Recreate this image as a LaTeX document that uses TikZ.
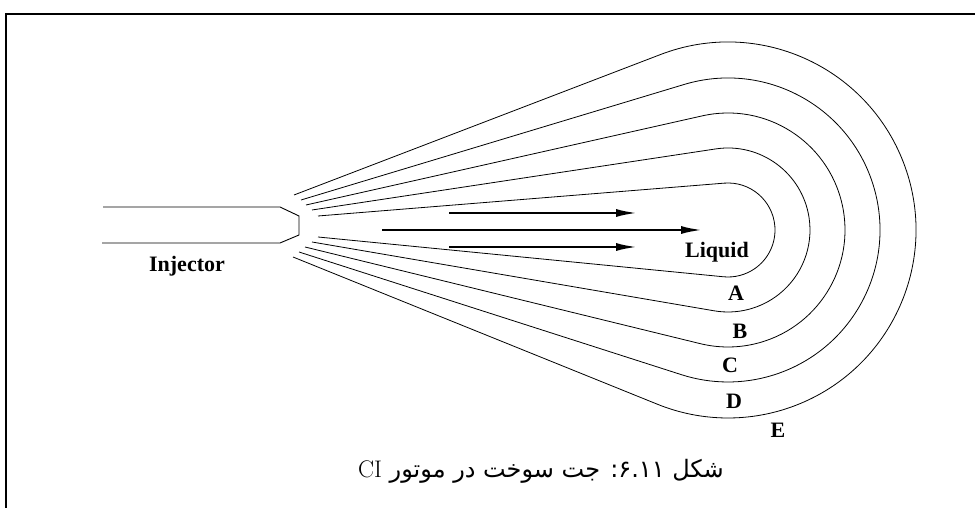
\documentclass[tikz,border=0pt]{standalone}
\usepackage{fontspec}
\usetikzlibrary{arrows.meta}
\newfontfamily\labelfont{Liberation Serif}
\newfontfamily\persianfont[Script=Arabic]{DejaVu Sans}
\TeXXeTstate=1

\begin{document}
\begin{tikzpicture}[
            x=1pt, y=1pt,
            nozzle/.style={line width=0.9pt, line join=miter},
            spray/.style={line width=0.8pt},
            flow/.style={-{Latex[length=22pt,width=8pt]}, line width=2.6pt},
            tag/.style={font=\labelfont\bfseries\fontsize{22}{26}\selectfont, anchor=base, inner sep=0pt}
        ]
            \useasboundingbox (0,0) rectangle (975,508);
            % Frame
            \draw[line width=1.2pt] (6,0) -- (6,494) -- (975,494);

            % Injector body
            \draw[nozzle] (103,301) -- (280,301) -- (299,292) -- (299,273) -- (280,265) -- (102,265);

            % Spray envelopes: tangent lines from the tip round each circle
            \coordinate (core) at (728,278);
            \foreach \ux/\uy/\lx/\ly/\r/\a/\b in {
                    318/292/318/271/47/94.62/-95.60,
                    312/298/312/266/82/98.60/-99.71,
                    306/303/305/261/117/102.68/-103.74,
                    301/308/299/256/152/106.78/-107.79,
                    294/313/293/251/188/110.97/-112.00}
                \draw[spray] (\ux,\uy) -- ([shift={(\a:\r)}]core)
                    arc[start angle=\a, end angle=\b, radius=\r] -- (\lx,\ly);

            % Liquid core arrows
            \draw[flow] (449,295) -- (638,295);
            \draw[flow] (382,278) -- (703,278);
            \draw[flow] (449,261) -- (638,261);

            % Nodes
            \node[tag] (injector) at (187,236) {Injector};
            \node[tag] (liquid) at (717,250) {Liquid};
            \node[tag] (zoneA) at (736,207) {A};
            \node[tag] (zoneB) at (740,169) {B};
            \node[tag] (zoneC) at (730,135) {C};
            \node[tag] (zoneD) at (734,99) {D};
            \node[tag] (zoneE) at (778,70) {E};

            % Caption (right to left; the figure number is split so it reads 6.11)
            \node[font=\fontsize{24}{28}\selectfont, anchor=base] (caption) at (541,30)
                {\persianfont\beginR شکل ۶{}.{}۱۱{}: جت سوخت در موتور {\rmfamily\beginL CI\endL}\endR};
        \end{tikzpicture}
\end{document}
